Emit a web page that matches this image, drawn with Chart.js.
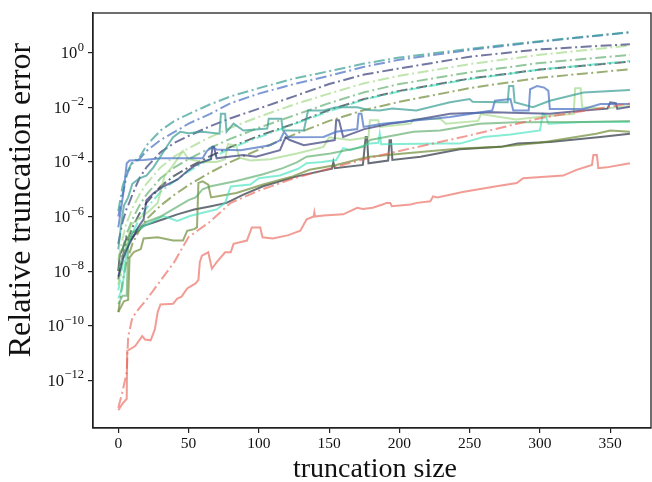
<!DOCTYPE html>
<html>
<head>
<meta charset="utf-8">
<script src="https://cdn.jsdelivr.net/npm/chart.js"></script>
<style>
  body { margin: 0; background: #fff; }
  #wrap { width: 652px; height: 482px; }
</style>
</head>
<body>
<div id="wrap"><canvas id="errChart" width="652" height="482"></canvas></div>
<script>
// values are log10 of the relative truncation error

// dash-dot curves (bounds), shared x grid
const boundX = [0, 3, 6, 7, 10, 15, 20, 30, 40, 50, 65, 80, 100, 125, 150, 175, 200, 250, 300, 364];
const redBound   = [-13.0, -12.4, -11.7, -10.4, -9.7, -9.35, -9.05, -8.35, -7.65, -6.75, -6.2, -5.5, -5.05, -4.6, -4.25, -3.9, -3.6, -3.03, -2.4, -1.86];
const tealBound  = [-5.8, -4.9, -4.4, -4.3, -4.0, -3.85, -3.4, -2.85, -2.5, -2.25, -1.9, -1.6, -1.3, -0.95, -0.68, -0.4, -0.18, 0.14, 0.42, 0.75];
const blueBound  = [-6.0, -5.2, -4.5, -4.35, -4.05, -3.9, -3.6, -3.2, -2.9, -2.6, -2.25, -1.85, -1.5, -1.15, -0.85, -0.52, -0.26, 0.1, 0.4, 0.74];
const navyBound  = [-7.0, -6.2, -5.7, -5.6, -5.2, -4.6, -4.2, -3.65, -3.3, -3.05, -2.7, -2.4, -2.05, -1.6, -1.15, -0.8, -0.58, -0.15, 0.12, 0.31];
const lgreenBound = [-7.6, -6.8, -6.2, -6.1, -5.7, -5.2, -4.8, -4.2, -3.8, -3.5, -3.1, -2.75, -2.35, -1.9, -1.5, -1.12, -0.85, -0.42, -0.08, 0.26];
const greenBound = [-8.0, -7.2, -6.6, -6.5, -6.1, -5.6, -5.2, -4.6, -4.2, -3.9, -3.5, -3.15, -2.75, -2.3, -1.85, -1.45, -1.15, -0.72, -0.38, -0.08];
const grayBound  = [-8.3, -7.5, -6.9, -6.8, -6.4, -5.9, -5.5, -4.9, -4.5, -4.2, -3.8, -3.45, -3.05, -2.6, -2.1, -1.7, -1.4, -0.95, -0.62, -0.33];
const turqBound  = [-8.7, -7.8, -7.1, -7.0, -6.6, -6.1, -5.7, -5.1, -4.7, -4.35, -3.9, -3.5, -3.1, -2.62, -2.15, -1.72, -1.42, -0.97, -0.62, -0.31];
const oliveBound = [-9.5, -8.4, -7.6, -7.5, -7.0, -6.5, -6.1, -5.6, -5.2, -4.85, -4.4, -4.0, -3.55, -3.0, -2.5, -2.1, -1.8, -1.3, -0.92, -0.61];

// solid curves (measured error)
const redX = [0, 3, 6, 6.3, 12, 17, 19, 23, 26, 28, 30, 39, 42, 45, 49, 55, 57, 58, 59.5, 64, 66.6, 70, 76, 80, 82, 91.5, 95, 101, 102.6, 110, 121, 129.5, 134, 139, 139.5, 140, 146, 160, 170, 174, 181, 188, 191, 193.5, 194.6, 208, 212.5, 222, 224, 227, 245, 269, 283.5, 288, 316.5, 326, 337, 338, 340.5, 341.5, 347.5, 364];
const redErr = [-13.09, -12.85, -12.67, -10.92, -10.74, -10.38, -10.5, -10.53, -10.13, -9.5, -9.22, -9.19, -9.0, -8.93, -8.63, -8.45, -8.32, -7.67, -7.43, -7.31, -7.91, -7.67, -7.31, -7.31, -7.0, -6.88, -6.4, -6.4, -6.76, -6.8, -6.68, -6.52, -6.1, -6.0, -5.85, -6.0, -5.96, -5.92, -5.68, -5.72, -5.68, -5.56, -5.5, -5.5, -5.62, -5.56, -5.5, -5.44, -5.26, -5.3, -5.1, -4.89, -4.77, -4.6, -4.5, -4.29, -4.11, -3.75, -3.75, -4.23, -4.2, -4.05];

const tealX = [0, 2, 4, 7, 10, 15, 20, 25, 30, 35, 39, 44, 50, 60, 72, 73, 76, 77, 82, 89, 106, 107, 116, 117, 132, 135, 146, 155, 170, 178, 186, 195, 212, 236, 250, 252, 272, 277, 278, 281, 282, 295, 307, 331, 364];
const tealErr = [-7.2, -6.3, -5.6, -5.3, -4.8, -4.6, -4.5, -4.2, -3.8, -3.4, -3.1, -2.9, -2.95, -2.9, -2.97, -2.24, -2.24, -2.9, -2.6, -2.85, -2.78, -2.42, -2.42, -2.85, -2.85, -2.12, -2.12, -2.0, -2.0, -2.1, -2.12, -2.05, -2.12, -1.82, -1.7, -1.8, -1.82, -1.82, -1.22, -1.22, -1.82, -2.0, -1.76, -1.46, -1.37];

const blueX = [0, 2, 4, 6, 8, 18, 30, 60, 63, 67, 70, 87, 108, 115, 118, 121, 146, 155, 170, 171, 173, 174.5, 188, 236, 266, 268, 279, 281, 292, 293, 298, 303, 306, 307, 331, 343, 364];
const blueErr = [-6.4, -5.7, -5.0, -4.05, -3.95, -3.93, -3.87, -3.87, -3.6, -3.45, -3.55, -3.57, -3.39, -3.21, -2.9, -3.1, -3.09, -2.9, -2.8, -2.24, -2.24, -2.72, -2.6, -2.36, -2.12, -1.76, -1.7, -2.12, -2.12, -1.34, -1.22, -1.28, -1.4, -2.06, -2.06, -1.88, -1.88];

const navyX = [0, 3, 6, 9, 14, 18, 20, 25, 32, 42, 50, 54, 60, 66, 67, 68, 70, 80, 89, 98, 115, 119, 122, 132, 146, 154, 155, 157, 160, 175, 193, 203, 236, 267, 280, 307, 331, 348, 350, 354, 355, 364];
const navyErr = [-8.2, -7.6, -7.2, -6.9, -6.4, -6.1, -5.4, -5.15, -4.9, -4.65, -4.3, -4.15, -4.0, -3.9, -3.45, -3.45, -3.87, -3.8, -3.75, -3.81, -3.57, -3.1, -3.2, -3.39, -3.27, -3.2, -2.48, -2.48, -3.09, -2.8, -2.6, -2.54, -2.24, -2.18, -2.2, -2.24, -2.12, -2.05, -1.82, -1.85, -2.06, -1.98];

const lgreenX = [0, 3, 6, 9, 14, 18, 22, 28, 33, 38, 42, 46, 50, 60, 70, 76, 78, 84, 86, 94, 108, 117, 127, 146, 150, 165, 178, 179, 185, 186, 208, 210, 229, 233, 256, 258, 283, 300, 324, 325, 329, 330, 345, 364];
const lgreenErr = [-8.5, -7.6, -7.0, -6.3, -6.1, -5.95, -5.8, -5.5, -4.5, -4.2, -3.9, -3.6, -3.9, -4.0, -4.0, -3.9, -3.35, -3.4, -3.85, -3.95, -3.9, -3.8, -3.69, -3.45, -3.1, -3.2, -3.1, -2.48, -2.48, -2.72, -2.6, -2.45, -2.42, -2.6, -2.5, -2.25, -2.45, -2.35, -2.24, -1.3, -1.3, -2.0, -2.05, -1.95];

const greenX = [0, 3, 6, 7, 10, 15, 20, 30, 40, 50, 55, 60, 65, 84, 103, 117, 127, 134, 151, 174, 179, 210, 229, 257, 283, 331, 364];
const greenErr = [-9.2, -8.9, -8.9, -7.0, -6.6, -6.4, -6.2, -6.0, -5.7, -5.4, -5.3, -5.0, -4.9, -4.7, -4.45, -4.23, -4.02, -3.81, -3.69, -3.45, -3.2, -2.9, -2.85, -2.6, -2.55, -2.54, -2.5];

const turqX = [0, 3, 6, 10, 23, 32, 42, 51, 60, 70, 76, 80, 94, 100, 115, 128, 134, 145, 155, 160, 165, 175, 179, 185, 186, 187, 231, 243, 260, 279, 300, 302, 304, 306, 331, 364];
const turqErr = [-9.0, -8.6, -7.2, -6.6, -6.22, -5.98, -6.16, -5.98, -5.86, -5.74, -5.5, -4.9, -4.83, -4.6, -4.5, -4.25, -4.05, -4.0, -3.93, -3.5, -3.57, -3.4, -3.33, -3.3, -2.97, -3.35, -3.33, -3.33, -3.09, -3.0, -2.85, -2.24, -2.3, -2.6, -2.54, -2.54];

const oliveX = [0, 4, 7, 8, 11, 16, 18, 28, 39, 46, 49, 54, 56, 57, 60, 64, 66, 84, 103, 124, 136, 155, 174, 179, 203, 243, 272, 300, 340, 350, 364];
const oliveErr = [-9.5, -9.1, -9.05, -7.5, -7.3, -7.19, -6.8, -6.76, -6.88, -6.88, -6.52, -6.46, -6.4, -4.77, -4.71, -4.83, -5.3, -5.14, -4.83, -4.53, -4.29, -4.11, -3.87, -3.81, -3.69, -3.51, -3.45, -3.3, -2.97, -2.85, -2.9];

const grayX = [0, 1, 3, 6, 8, 13, 18, 25, 32, 42, 54, 66, 77, 89, 103, 127, 152, 153, 154, 174, 176, 177, 178, 192, 193, 194, 195, 215, 243, 272, 284, 307, 343, 364];
const grayErr = [-8.0, -7.4, -7.2, -6.76, -6.9, -6.58, -6.34, -6.22, -6.1, -5.92, -5.74, -5.62, -5.5, -5.2, -4.89, -4.53, -4.25, -4.0, -4.23, -4.11, -3.09, -3.09, -4.05, -3.95, -3.21, -3.21, -3.93, -3.81, -3.54, -3.45, -3.33, -3.27, -3.09, -2.97];

const xTickValues = [0, 50, 100, 150, 200, 250, 300, 350];
const yTickExps = [-12, -10, -8, -6, -4, -2, 0];
const xTitle = 'truncation size';
const yTitle = 'Relative truncation error';

const palette = {
    red: 'rgba(232, 96, 82, 0.62)',
    teal: 'rgba(60, 160, 150, 0.72)',
    blue: 'rgba(70, 110, 195, 0.7)',
    navy: 'rgba(40, 45, 110, 0.65)',
    lgreen: 'rgba(150, 212, 120, 0.6)',
    green: 'rgba(80, 165, 95, 0.62)',
    turq: 'rgba(60, 225, 185, 0.62)',
    olive: 'rgba(100, 130, 40, 0.65)',
    gray: 'rgba(40, 50, 62, 0.7)'
};

function toPoints(xs, exps) {
    return xs.map((x, i) => ({ x: x, y: Math.pow(10, exps[i]) }));
}

function solid(xs, exps, color) {
    return { data: toPoints(xs, exps), borderColor: color, borderWidth: 2, pointRadius: 0, fill: false, tension: 0 };
}

function bound(exps, color) {
    return { data: toPoints(boundX, exps), borderColor: color, borderWidth: 2, borderDash: [11, 3.5, 2, 3.5], pointRadius: 0, fill: false, tension: 0 };
}

const datasets = [
    solid(redX, redErr, palette.red), bound(redBound, palette.red),
    solid(tealX, tealErr, palette.teal), bound(tealBound, palette.teal),
    solid(blueX, blueErr, palette.blue), bound(blueBound, palette.blue),
    solid(navyX, navyErr, palette.navy), bound(navyBound, palette.navy),
    solid(lgreenX, lgreenErr, palette.lgreen), bound(lgreenBound, palette.lgreen),
    solid(greenX, greenErr, palette.green), bound(greenBound, palette.green),
    solid(turqX, turqErr, palette.turq), bound(turqBound, palette.turq),
    solid(oliveX, oliveErr, palette.olive), bound(oliveBound, palette.olive),
    solid(grayX, grayErr, palette.gray), bound(grayBound, palette.gray)
];

const serif = "'Liberation Serif', 'DejaVu Serif', serif";

// box around the plot, axis titles, and 10^n labels with a raised exponent
const frame = {
    id: 'frame',
    afterDraw(chart) {
        const { ctx, chartArea: a } = chart;
        const yScale = chart.scales.y;
        ctx.save();
        ctx.strokeStyle = '#222';
        ctx.lineWidth = 1.3;
        ctx.strokeRect(a.left, a.top, a.right - a.left, a.bottom - a.top);

        ctx.fillStyle = '#111';
        ctx.textBaseline = 'alphabetic';
        yTickExps.forEach(e => {
            const py = yScale.getPixelForValue(Math.pow(10, e));
            const expText = e < 0 ? '\u2212' + Math.abs(e) : String(e);
            ctx.font = '12.5px ' + serif;
            const expW = ctx.measureText(expText).width;
            const right = a.left - 9;
            ctx.textAlign = 'left';
            ctx.fillText(expText, right - expW, py - 2);
            ctx.font = '16.5px ' + serif;
            ctx.textAlign = 'right';
            ctx.fillText('10', right - expW - 0.5, py + 5.5);
        });

        ctx.textAlign = 'center';
        ctx.font = '28px ' + serif;
        ctx.fillText(xTitle, 375, 477);

        ctx.translate(30, 200);
        ctx.rotate(-Math.PI / 2);
        ctx.font = '32px ' + serif;
        ctx.fillText(yTitle, 0, 0);
        ctx.restore();
    }
};

new Chart(document.getElementById('errChart'), {
    type: 'line',
    data: { datasets: datasets },
    options: {
        responsive: false,
        animation: false,
        devicePixelRatio: 1,
        layout: { padding: { left: 0, top: 8, right: 1, bottom: 0 } },
        plugins: { legend: { display: false }, tooltip: { enabled: false } },
        scales: {
            x: {
                type: 'linear',
                min: -18,
                max: 379,
                afterBuildTicks: s => { s.ticks = xTickValues.map(v => ({ value: v })); },
                afterFit: s => { s.height = 54; },
                grid: { drawOnChartArea: false, drawTicks: true, tickLength: 5, color: '#222', lineWidth: 1.2 },
                border: { display: true, color: '#222', width: 1.3 },
                ticks: { color: '#111', font: { family: serif, size: 15.5 }, padding: 2, maxRotation: 0 }
            },
            y: {
                type: 'logarithmic',
                min: Math.pow(10, -13.74),
                max: Math.pow(10, 1.45),
                afterBuildTicks: s => { s.ticks = yTickExps.map(e => ({ value: Math.pow(10, e) })); },
                afterFit: s => { s.width = 93; },
                grid: { drawOnChartArea: false, drawTicks: true, tickLength: 5, color: '#222', lineWidth: 1.2 },
                border: { display: true, color: '#222', width: 1.3 },
                ticks: { color: '#111', font: { family: serif, size: 15 }, padding: 4, callback: () => '' }
            }
        }
    },
    plugins: [frame]
});
</script>
</body>
</html>
